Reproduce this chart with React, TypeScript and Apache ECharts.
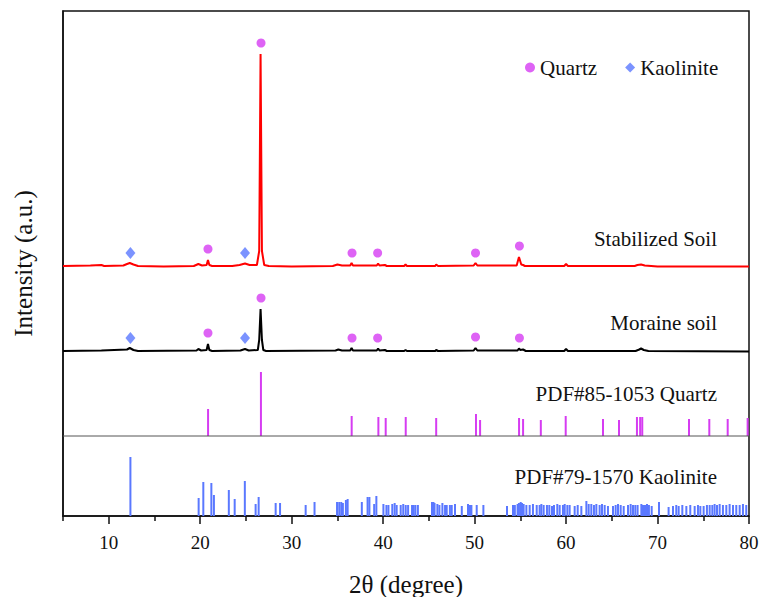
import React, { useEffect, useRef } from "react";
import * as echarts from "echarts";

const FONT = "Liberation Serif";
const QUARTZ_COLOR = "#d63cf2";
const KAOL_COLOR = "#5a78ff";

const xMajorTicks = [10, 20, 30, 40, 50, 60, 70, 80];
const xMinorTicks = [5, 15, 25, 35, 45, 55, 65, 75];

// offset baselines (arbitrary units)
const quartzRefBase = 80;
const kaolRefBase = 0;
const dividerLevel = 80;

// XRD pattern: stabilized soil [2θ, intensity]
const stabilizedSoil: number[][] = [
  [5, 250], [8, 250.5], [9.2, 251], [9.5, 250], [11.6, 250.5], [12.0, 252], [12.3, 253], [12.7, 251.5],
  [13.2, 250], [16, 249.5], [19.3, 250], [19.8, 252], [20.2, 250.5], [20.7, 251], [20.85, 256], [21.0, 251],
  [21.3, 250], [23.5, 250], [24.3, 251], [24.9, 252.5], [25.4, 251], [26.2, 251], [26.45, 265], [26.6, 462],
  [26.75, 265], [27.0, 251], [27.5, 250], [30, 249.5], [34.5, 250], [35.0, 251.5], [35.5, 250.5], [36.4, 250.5],
  [36.55, 253], [36.7, 250.5], [39.3, 250.5], [39.45, 252.5], [39.6, 250.5], [40.2, 251], [40.4, 250],
  [42.3, 250], [42.45, 251.5], [42.6, 250], [45.7, 250], [45.8, 251.5], [46, 250], [49.9, 250.5], [50.1, 253],
  [50.3, 250.5], [54.6, 250.5], [54.85, 259], [55.1, 251.5], [55.3, 251], [55.5, 250], [59.8, 250], [60.0, 252],
  [60.2, 250], [67.5, 250], [67.8, 251], [68.2, 251.5], [68.6, 250.5], [70, 249.5], [80, 249.5],
];

// XRD pattern: moraine soil [2θ, intensity]
const moraineSoil: number[][] = [
  [5, 165], [9.2, 165.5], [12.0, 166.5], [12.3, 168], [12.7, 166], [13.2, 165], [19.6, 165.5], [19.8, 167],
  [20.1, 165.5], [20.7, 166], [20.85, 172], [21.0, 166], [21.3, 165], [24.4, 165.5], [24.9, 167], [25.3, 165.5],
  [26.3, 166], [26.45, 176], [26.6, 207], [26.75, 176], [26.9, 166], [27.2, 165], [34.8, 165.5], [35.1, 166.5],
  [35.5, 165.5], [36.4, 165.5], [36.55, 168], [36.7, 165.5], [39.3, 165.5], [39.45, 167.5], [39.6, 165.5],
  [40.2, 166], [40.4, 165], [42.3, 165], [42.45, 166], [42.6, 165], [45.7, 165], [45.8, 166], [46, 165],
  [49.9, 165.5], [50.1, 168], [50.3, 165.5], [54.7, 165.5], [54.85, 167.5], [55.0, 166], [55.3, 166.5],
  [55.6, 165], [59.8, 165], [60.0, 167], [60.2, 165], [67.6, 165], [68.0, 166.5], [68.2, 167.5], [68.5, 166],
  [69, 165], [80, 164.5],
];

// phase markers [2θ, position]
const quartzMarkers: number[][] = [
  [20.85, 267], [26.65, 473], [36.6, 263], [39.4, 263], [50.1, 263], [54.9, 270],
  [20.85, 183], [26.65, 218], [36.6, 178], [39.4, 178], [50.1, 179], [54.9, 178],
];
const kaoliniteMarkers: number[][] = [
  [12.37, 263], [24.9, 263], [12.37, 178], [24.9, 178],
];

// PDF#85-1053 Quartz reference lines [2θ, relative height]
const quartzRef: number[][] = [
  [20.86, 27], [26.64, 64], [36.56, 20], [39.48, 19], [40.28, 18], [42.47, 19], [45.8, 18], [50.15, 22],
  [50.6, 16], [54.86, 18], [55.3, 17], [57.24, 16], [59.96, 20], [64.04, 17], [65.79, 16], [67.75, 19],
  [68.1, 19], [68.33, 19], [73.44, 17], [75.66, 17], [77.67, 17], [79.85, 18],
];

// PDF#79-1570 Kaolinite reference lines [2θ, relative height]
const kaoliniteRef: number[][] = [
  [12.37, 59], [19.83, 18], [20.34, 34], [21.22, 33], [21.5, 21], [23.13, 26], [23.77, 17], [24.88, 35],
  [26.06, 12], [26.39, 19], [28.25, 13], [28.73, 13], [31.53, 11], [32.5, 14], [34.96, 14], [35.2, 14],
  [35.42, 14], [35.6, 13], [35.93, 16], [36.12, 17], [37.67, 14], [38.3, 19], [38.5, 19], [39.02, 12],
  [39.26, 20], [40.03, 12], [40.36, 11], [40.58, 11], [41.0, 12], [41.26, 13], [41.48, 11], [41.92, 11],
  [42.2, 12], [42.47, 11], [42.73, 11], [43.16, 11], [43.34, 11], [43.53, 11], [43.8, 11], [45.34, 14],
  [45.5, 14], [45.62, 13], [45.93, 12], [46.15, 11], [46.48, 13], [46.77, 11], [46.95, 11], [47.3, 11],
  [47.5, 11], [47.86, 12], [48.6, 10], [49.28, 12], [49.5, 11], [49.65, 11], [50.23, 11], [50.96, 11],
  [53.54, 10], [54.2, 11], [54.4, 11], [54.7, 12], [54.85, 13], [55.04, 14], [55.18, 13], [55.36, 12],
  [55.66, 11], [56.02, 11], [56.38, 12], [56.79, 11], [57.11, 11], [57.3, 12], [57.55, 11], [57.91, 11],
  [58.17, 11], [58.46, 10], [58.68, 11], [59.04, 12], [59.3, 11], [59.66, 11], [59.85, 12], [60.14, 11],
  [60.39, 11], [60.94, 10], [61.27, 11], [61.67, 10], [62.22, 15], [62.47, 12], [62.76, 12], [63.05, 11],
  [63.31, 12], [63.67, 11], [63.93, 12], [64.22, 11], [64.58, 10], [65.13, 10], [65.42, 11], [65.68, 12],
  [65.97, 11], [66.3, 10], [66.77, 11], [67.06, 12], [67.32, 11], [67.57, 11], [67.82, 11], [68.23, 12],
  [68.41, 11], [68.63, 11], [68.85, 12], [69.06, 11], [69.36, 10], [70.16, 14], [71.21, 9], [71.69, 10],
  [72.05, 11], [72.31, 10], [72.71, 11], [73.15, 10], [73.58, 11], [74.06, 10], [74.42, 11], [74.68, 10],
  [75.04, 10], [75.4, 11], [75.7, 11], [75.99, 11], [76.24, 12], [76.5, 11], [76.79, 12], [77.15, 11],
  [77.52, 11], [77.88, 12], [78.25, 11], [78.61, 11], [78.98, 11], [79.34, 12], [79.7, 11],
];

const seriesLabels = [
  { text: "Stabilized Soil", y: 239 },
  { text: "Moraine soil", y: 323 },
  { text: "PDF#85-1053 Quartz", y: 394 },
  { text: "PDF#79-1570 Kaolinite", y: 477 },
];

function stickSeries(name: string, data: number[][], base: number, color: string) {
  return {
    type: "custom",
    name,
    data,
    encode: { x: 0, y: 1 },
    silent: true,
    renderItem: (params: any, api: any) => {
      const x = api.value(0);
      const h = api.value(1);
      const p0 = api.coord([x, base]);
      const p1 = api.coord([x, base + h]);
      return {
        type: "line",
        shape: { x1: p0[0], y1: p0[1], x2: p1[0], y2: p1[1] },
        style: { stroke: color, lineWidth: 2 },
      };
    },
  };
}

export default function App() {
  const ref = useRef<HTMLDivElement>(null);
  useEffect(() => {
    if (!ref.current) return;
    const chart = echarts.init(ref.current, undefined, { renderer: "svg" });
    chart.setOption({
      animation: false,
      backgroundColor: "#fff",
      textStyle: { fontFamily: FONT },
      grid: {
        left: 63, right: 11, top: 11, bottom: 81,
        show: true, borderColor: "#111", borderWidth: 1.5, containLabel: false,
        outerBoundsMode: "none",
      },
      legend: {
        left: 520, top: 52,
        itemWidth: 10, itemHeight: 10, itemGap: 28,
        textStyle: { fontFamily: FONT, fontSize: 21, color: "#111" },
        data: [
          { name: "Quartz", icon: "circle" },
          { name: "Kaolinite", icon: "diamond" },
        ],
      },
      xAxis: [
        {
          type: "value", min: 5, max: 80,
          name: "2θ (degree)", nameLocation: "middle", nameGap: 56,
          nameTextStyle: { fontFamily: FONT, fontSize: 25, color: "#111" },
          axisLine: { show: true, lineStyle: { color: "#111", width: 1.5 } },
          axisTick: { show: true, customValues: xMajorTicks, length: 8, lineStyle: { color: "#111", width: 1.5 } },
          axisLabel: { customValues: xMajorTicks, fontFamily: FONT, fontSize: 19, color: "#111", margin: 17 },
          splitLine: { show: false },
        },
        {
          type: "value", min: 5, max: 80, position: "bottom",
          axisLine: { show: false },
          axisTick: { show: true, customValues: xMinorTicks, length: 5, lineStyle: { color: "#111", width: 1.5 } },
          axisLabel: { show: false },
          splitLine: { show: false },
        },
      ],
      yAxis: {
        type: "value", min: 0, max: 505,
        name: "Intensity (a.u.)", nameLocation: "middle", nameGap: 27,
        nameTextStyle: { fontFamily: FONT, fontSize: 25, color: "#111" },
        axisLine: { show: true, lineStyle: { color: "#111", width: 1.5 } },
        axisTick: { show: false },
        axisLabel: { show: false },
        splitLine: { show: false },
      },
      series: [
        {
          type: "line", name: "Stabilized Soil", data: stabilizedSoil, showSymbol: false, symbol: "none",
          lineStyle: { color: "#ff0000", width: 2 }, itemStyle: { color: "#ff0000" }, silent: true,
        },
        {
          type: "line", name: "Moraine soil", data: moraineSoil, showSymbol: false, symbol: "none",
          lineStyle: { color: "#000", width: 2 }, itemStyle: { color: "#000" }, silent: true,
        },
        {
          type: "line", name: "divider", data: [[5, dividerLevel], [80, dividerLevel]], symbol: "none",
          lineStyle: { color: "#555", width: 1 }, silent: true,
        },
        stickSeries("PDF#85-1053 Quartz", quartzRef, quartzRefBase, QUARTZ_COLOR),
        stickSeries("PDF#79-1570 Kaolinite", kaoliniteRef, kaolRefBase, KAOL_COLOR),
        {
          type: "scatter", name: "Quartz", data: quartzMarkers, symbol: "circle", symbolSize: 9,
          itemStyle: { color: QUARTZ_COLOR }, silent: true,
        },
        {
          type: "scatter", name: "Kaolinite", data: kaoliniteMarkers, symbol: "diamond", symbolSize: [10, 12],
          itemStyle: { color: KAOL_COLOR }, silent: true,
        },
      ],
      graphic: seriesLabels.map((l) => ({
        type: "text",
        x: 717, y: l.y,
        style: {
          text: l.text, fontFamily: FONT, fontSize: 21, fill: "#111",
          textAlign: "right", textVerticalAlign: "middle",
        },
      })),
    });
    return () => chart.dispose();
  }, []);
  return <div ref={ref} style={{ width: 760, height: 597, position: "absolute", left: 0, top: 0 }} />;
}
